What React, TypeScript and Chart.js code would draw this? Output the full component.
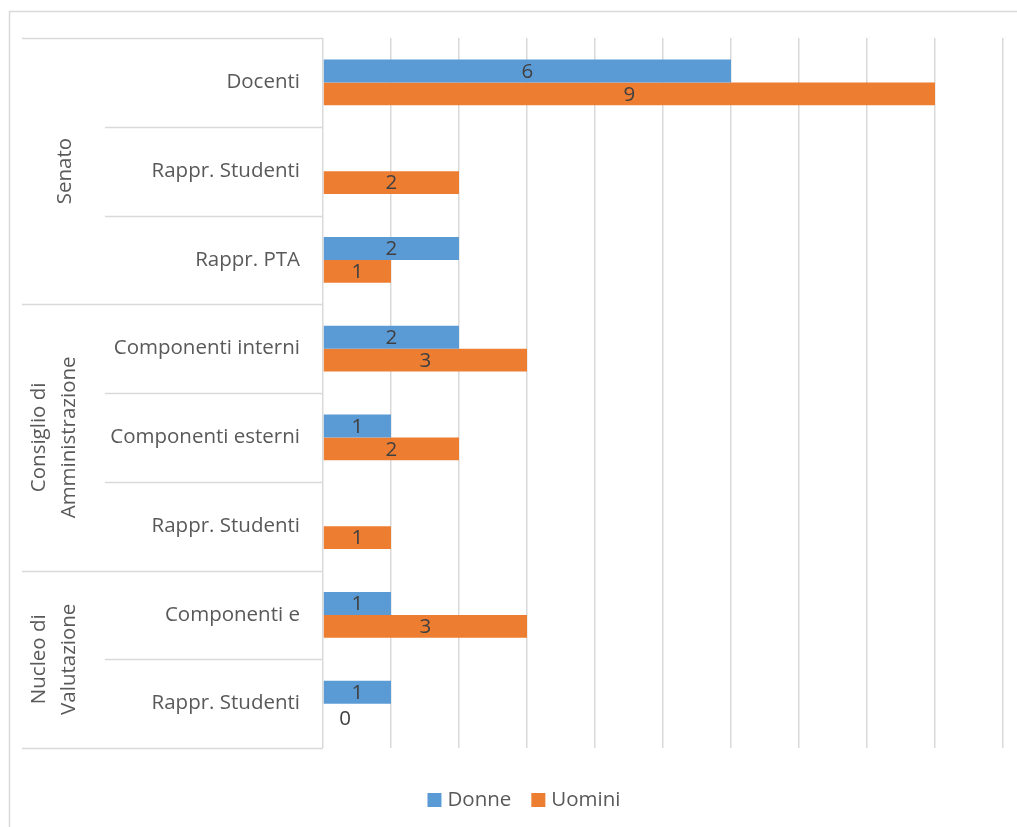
import React, { useEffect, useRef } from "react";
import { Chart, registerables } from "chart.js";

Chart.register(...registerables);

const categories = [
  "Docenti",
  "Rappr. Studenti",
  "Rappr. PTA",
  "Componenti interni",
  "Componenti esterni",
  "Rappr. Studenti",
  "Componenti e",
  "Rappr. Studenti",
];
const groupLabels = [["Senato"], ["Consiglio di", "Amministrazione"], ["Nucleo di", "Valutazione"]];
const groupSizes = [3, 3, 2];
const donne: (number | null)[] = [6, null, 2, 2, 1, null, 1, 1];
const uomini: (number | null)[] = [9, 2, 1, 3, 2, 1, 3, 0];
const seriesNames = ["Donne", "Uomini"];
const xTicks = [0, 10];

const FONT = '"Open Sans", "Noto Sans", sans-serif';
const LINE = "#d9d9d9";
const TEXT = "#595959";
const FS = 20.5;

const framePlugin = {
  id: "frame",
  beforeDraw(chart: any) {
    const { ctx, chartArea, width, height } = chart;
    ctx.save();
    ctx.fillStyle = "#ffffff";
    ctx.fillRect(0, 0, width, height);
    ctx.strokeStyle = LINE;
    ctx.lineWidth = 1.5;
    ctx.beginPath();
    ctx.moveTo(9.5, height + 5);
    ctx.lineTo(9.5, 11.5);
    ctx.lineTo(width + 5, 11.5);
    ctx.stroke();

    const top = chartArea.top;
    const bottom = chartArea.bottom;
    const n = categories.length;
    const rowH = (bottom - top) / n;
    const groupX = 22;
    const subX = 105;
    const axisX = chartArea.left;

    const groupStarts = new Set<number>();
    let acc = 0;
    groupStarts.add(0);
    groupSizes.forEach((s) => {
      acc += s;
      groupStarts.add(acc);
    });
    ctx.lineWidth = 1.5;
    for (let i = 0; i <= n; i++) {
      const y = Math.round(top + i * rowH) + 0.5;
      ctx.beginPath();
      ctx.moveTo(groupStarts.has(i) ? groupX : subX, y);
      ctx.lineTo(axisX, y);
      ctx.stroke();
    }

    ctx.fillStyle = TEXT;
    ctx.font = `${FS}px ${FONT}`;
    ctx.textAlign = "right";
    ctx.textBaseline = "middle";
    categories.forEach((c, i) => {
      ctx.fillText(c, 300, top + (i + 0.5) * rowH);
    });

    let start = 0;
    groupSizes.forEach((s, gi) => {
      const cy = top + (start + s / 2) * rowH;
      const lines = groupLabels[gi];
      const lh = 30;
      const cx = lines.length === 1 ? 65 : 54;
      ctx.save();
      ctx.translate(cx, cy);
      ctx.rotate(-Math.PI / 2);
      ctx.textAlign = "center";
      ctx.textBaseline = "middle";
      lines.forEach((l, li) => {
        ctx.fillText(l, 0, (li - (lines.length - 1) / 2) * lh);
      });
      ctx.restore();
      start += s;
    });
    ctx.restore();
  },
  afterDatasetsDraw(chart: any) {
    const { ctx } = chart;
    ctx.save();
    ctx.font = `${FS}px ${FONT}`;
    ctx.fillStyle = "#404040";
    ctx.textBaseline = "middle";
    ctx.textAlign = "center";
    chart.data.datasets.forEach((ds: any, di: number) => {
      const meta = chart.getDatasetMeta(di);
      meta.data.forEach((el: any, i: number) => {
        const v = ds.data[i];
        if (v === null || v === undefined) return;
        if (v === 0) {
          ctx.fillText(String(v), el.base + 22, el.y + 4);
        } else {
          ctx.fillText(String(v), (el.x + el.base) / 2, el.y + 1);
        }
      });
    });
    ctx.restore();
  },
  afterDraw(chart: any) {
    const { ctx } = chart;
    ctx.save();
    ctx.font = `${FS}px ${FONT}`;
    ctx.textBaseline = "middle";
    ctx.textAlign = "left";
    const box = 14;
    const gapBoxText = 6;
    const gapItems = 20;
    const items = chart.data.datasets.map((d: any) => ({
      label: d.label,
      color: d.backgroundColor,
      w: ctx.measureText(d.label).width,
    }));
    const total = items.reduce((a: number, it: any) => a + box + gapBoxText + it.w, 0) + gapItems * (items.length - 1);
    let x = 524 - total / 2;
    const y = 800;
    items.forEach((it: any) => {
      ctx.fillStyle = it.color;
      ctx.fillRect(x, y - box / 2, box, box);
      x += box + gapBoxText;
      ctx.fillStyle = TEXT;
      ctx.fillText(it.label, x, y);
      x += it.w + gapItems;
    });
    ctx.restore();
  },
};

export default function App() {
  const ref = useRef<HTMLCanvasElement>(null);
  useEffect(() => {
    if (!ref.current) return;
    const chart = new Chart(ref.current, {
      type: "bar",
      data: {
        labels: categories,
        datasets: [
          { label: seriesNames[0], data: donne, backgroundColor: "#5B9BD5", categoryPercentage: 0.518, barPercentage: 1 },
          { label: seriesNames[1], data: uomini, backgroundColor: "#ED7D31", categoryPercentage: 0.518, barPercentage: 1 },
        ],
      },
      options: {
        indexAxis: "y",
        animation: false,
        responsive: false,
        layout: { padding: { left: 323, right: 14, top: 38, bottom: 79 } },
        plugins: { legend: { display: false }, tooltip: { enabled: false } },
        scales: {
          x: {
            min: xTicks[0],
            max: xTicks[1],
            ticks: { display: false, stepSize: 1 },
            grid: { color: LINE, lineWidth: 1.5, drawTicks: false },
            border: { display: false },
          },
          y: { display: false },
        },
      },
      plugins: [framePlugin],
    });
    return () => chart.destroy();
  }, []);
  return (
    <div style={{ position: "fixed", left: 0, top: 0, width: 1017, height: 827 }}>
      <canvas ref={ref} width={1017} height={827} style={{ width: 1017, height: 827 }} />
    </div>
  );
}
